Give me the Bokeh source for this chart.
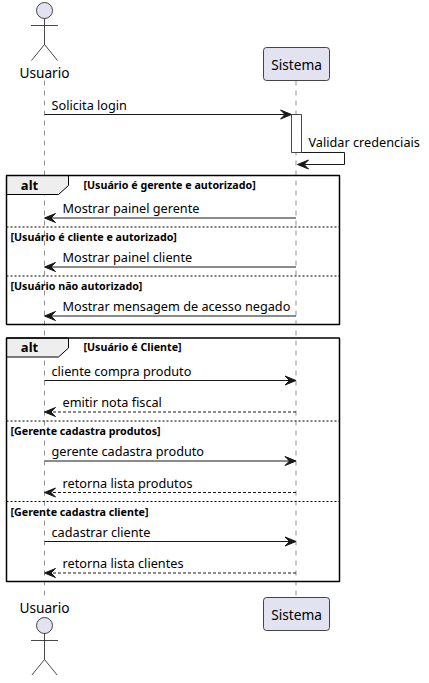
from bokeh.plotting import figure
from bokeh.models import Range1d
from bokeh.core.properties import value
from bokeh.embed import file_html
from bokeh.resources import INLINE

# diagram content
participants = ["Usuario", "Sistema"]
participant_kind = ["actor", "box"]

login_msg = ("Usuario", "Sistema", "Solicita login")
self_msg = ("Sistema", "Validar credenciais")

alt1_guards = ["[Usuário é gerente e autorizado]",
               "[Usuário é cliente e autorizado]",
               "[Usuário não autorizado]"]
alt1_branches = [
    [("Sistema", "Usuario", "Mostrar painel gerente", "sync")],
    [("Sistema", "Usuario", "Mostrar painel cliente", "sync")],
    [("Sistema", "Usuario", "Mostrar mensagem de acesso negado", "sync")],
]

alt2_guards = ["[Usuário é Cliente]",
               "[Gerente cadastra produtos]",
               "[Gerente cadastra cliente]"]
alt2_branches = [
    [("Usuario", "Sistema", "cliente compra produto", "sync"),
     ("Sistema", "Usuario", "emitir nota fiscal", "reply")],
    [("Usuario", "Sistema", "gerente cadastra produto", "sync"),
     ("Sistema", "Usuario", "retorna lista produtos", "reply")],
    [("Usuario", "Sistema", "cadastrar cliente", "sync"),
     ("Sistema", "Usuario", "retorna lista clientes", "reply")],
]

# layout (pixel-like units, y grows downward)
life_x = {"Usuario": 49, "Sistema": 300.5}
FRAME_L, FRAME_R = 11, 344
FONT = "Noto Sans"
INK = "#181818"
PART_FILL = "#E2E2F0"
MSG_SIZE = "12.7px"
PART_SIZE = "13.7px"
GUARD_SIZE = "10.7px"

p = figure(width=421, height=675, x_range=Range1d(5, 426), y_range=Range1d(678, 3),
           output_backend="svg", toolbar_location=None, min_border=0,
           x_axis_location=None, y_axis_location=None)
p.grid.grid_line_color = None
p.outline_line_color = None
p.background_fill_color = "white"


def label(x, y, txt, size=MSG_SIZE, bold=False, align="left"):
    p.text(x=[x], y=[y], text=[txt], text_font=value(FONT), text_font_size=size,
           text_font_style="bold" if bold else "normal", text_align=align,
           text_baseline="middle", text_color="black")


def head(tip, y, d):
    xs = [tip, tip - d * 11, tip - d * 6.5, tip - d * 11]
    ys = [y, y - 4.5, y, y + 4.5]
    p.patch(xs, ys, fill_color=INK, line_color=INK, line_width=1)


def arrow(x1, x2, y, txt, kind):
    d = 1 if x2 > x1 else -1
    dash = "solid" if kind == "sync" else "3 2"
    p.line([x1, x2 - d * 2], [y, y], line_color=INK, line_width=1, line_dash=dash)
    head(x2, y, d)
    tx = min(x1, x2) + (7 if d > 0 else 18)
    label(tx, y - 10, txt)


def stick(x, hy):
    p.circle(x=[x], y=[hy], radius=8, fill_color=PART_FILL, line_color=INK, line_width=0.8)
    p.line([x, x], [hy + 8, hy + 34], line_color=INK, line_width=0.8)
    p.line([x - 13.5, x + 13.5], [hy + 15, hy + 15], line_color=INK, line_width=0.8)
    p.line([x - 13, x, x + 13], [hy + 50, hy + 34, hy + 50], line_color=INK, line_width=0.8)


def box(x, top, name):
    p.quad(left=[x - 32.5], right=[x + 33.5], top=[top], bottom=[top + 33],
           fill_color=PART_FILL, line_color=INK, line_width=0.8, border_radius=3)
    label(x + 0.5, top + 17, name, size=PART_SIZE, align="center")


def alt_frame(top, guards, branches):
    y_arrow = top + 42.5
    last = y_arrow
    for i, branch in enumerate(branches):
        if i > 0:
            sep = last + 9
            p.line([FRAME_L, FRAME_R], [sep, sep], line_color="black", line_width=1, line_dash="2 2")
            label(15, sep + 10, guards[i], size=GUARD_SIZE, bold=True)
            y_arrow = sep + 40
        for frm, to, txt, kind in branch:
            arrow(life_x[frm], life_x[to], y_arrow, txt, kind)
            last = y_arrow
            y_arrow += 31.5
    bottom = last + 8.5
    p.patch([FRAME_L, 73, 73, 63, FRAME_L], [top, top, top + 10, top + 19, top + 19],
            fill_color="#EEEEEE", line_color="black", line_width=1)
    label(34, top + 9, "alt", size="13px", bold=True, align="center")
    label(88, top + 9, guards[0], size=GUARD_SIZE, bold=True)
    p.quad(left=[FRAME_L], right=[FRAME_R], top=[top], bottom=[bottom],
           fill_color=None, line_color="black", line_width=1.5)
    return bottom


# lifelines
life_top, life_end = 83, 598
for name in participants:
    p.line([life_x[name], life_x[name]], [life_top, life_end], line_color=INK,
           line_width=0.6, line_dash="5 5", line_alpha=0.8)

# header / footer participants
for name, kind in zip(participants, participant_kind):
    x = life_x[name]
    if kind == "actor":
        stick(x, 13)
        label(x, 75, name, size=PART_SIZE, align="center")
        label(x, 610, name, size=PART_SIZE, align="center")
        stick(x, 628)
    else:
        box(x, 50, name)
        box(x, 600, name)

# login + activation + self message
y = 117
p.quad(left=[296], right=[306], top=[y], bottom=[y + 38], fill_color="white",
       line_color=INK, line_width=0.8)
frm, to, txt = login_msg
p.line([life_x[frm], 294], [y, y], line_color=INK, line_width=1)
head(296, y, 1)
label(life_x[frm] + 7, y - 10, txt)

ys = y + 38
p.line([306, 349, 349, 304], [ys, ys, ys + 12, ys + 12], line_color=INK, line_width=1)
head(302, ys + 12, -1)
label(313, ys - 11, self_msg[1])

bottom1 = alt_frame(ys + 23, alt1_guards, alt1_branches)
bottom2 = alt_frame(bottom1 + 13.5, alt2_guards, alt2_branches)

open("out.html", "w").write(file_html(p, INLINE))
